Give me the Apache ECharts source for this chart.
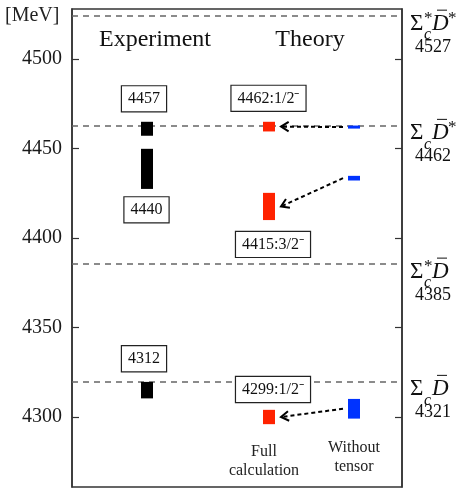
<!DOCTYPE html>
<html><head><meta charset="utf-8">
<script src="https://cdn.jsdelivr.net/npm/echarts@6/dist/echarts.min.js"></script>
<style>html,body{margin:0;padding:0;background:#fff}#c{width:468px;height:491px}</style>
</head><body><div id="c"></div>
<script>
// ---------------- data ----------------
const columns = ['Experiment', 'Full calculation', 'Without tensor'];
const columnX = [0.75, 1.97, 2.82];
const experimentBars = [[4457.2, 4465.0], [4427.5, 4449.9], [4310.5, 4319.7]];
const experimentLabels = ['4457', '4440', '4312'];
const fullBars = [[4459.6, 4465.0], [4410.1, 4425.3], [4296.1, 4304.1]];
const fullLabels = ['4462:1/2\u207B', '4415:3/2\u207B', '4299:1/2\u207B'];
const withoutTensorBars = [[4461.2, 4462.9], [4432.2, 4434.8], [4299.2, 4310.2]];
const thresholdLines = [4524, 4463, 4385.5, 4320];
const thresholdMasses = ['4527', '4462', '4385', '4321'];
const thresholdSigmaStar = [true, false, true, false];
const thresholdDStar = [true, true, false, false];
const yTicks = [4300, 4350, 4400, 4450, 4500];
const yTickLabels = ['4300', '4350', '4400', '4450', '4500'];

// ---------------- layout ----------------
const FONT = 'Liberation Serif';
const yMin = 4261, yMax = 4528, xMax = 3.3;
const barW = 0.12;
const expLabelAnchor = [[0.72, 4477.8], [0.745, 4415.8], [0.72, 4332.6]];
const fullLabelAnchor = [[1.965, 4478.1], [2.01, 4396.5], [2.01, 4315.5]];

const chart = echarts.init(document.getElementById('c'), null, {renderer: 'canvas'});

function barSeries(name, bars, xi, color) {
  return {
    type: 'custom', name, coordinateSystem: 'cartesian2d', silent: true, z: 5,
    data: bars.map(b => [columnX[xi], b[0], b[1]]),
    encode: {x: 0, y: [1, 2]},
    renderItem: (params, api) => {
      const lo = api.coord([api.value(0), api.value(1)]);
      const hi = api.coord([api.value(0), api.value(2)]);
      const w = api.size([barW, 0])[0];
      return {type: 'rect', shape: {x: lo[0] - w / 2, y: hi[1], width: w, height: lo[1] - hi[1]},
        style: {fill: color}};
    }
  };
}

function boxSeries(name, texts, anchors) {
  return {
    type: 'custom', name, coordinateSystem: 'cartesian2d', silent: true, z: 6,
    data: anchors.map((a, i) => [a[0], a[1], i]),
    encode: {x: 0, y: 1},
    renderItem: (params, api) => {
      const p = api.coord([api.value(0), api.value(1)]);
      return {type: 'text', x: p[0], y: p[1], style: {
        text: texts[api.value(2)], font: '16px ' + FONT, fill: '#111',
        align: 'center', verticalAlign: 'middle',
        backgroundColor: '#fff', borderColor: '#222', borderWidth: 1.2, padding: [5, 6, 4, 6]
      }};
    }
  };
}

const arrowSeries = {
  type: 'custom', name: 'arrows', coordinateSystem: 'cartesian2d', silent: true, z: 7,
  data: withoutTensorBars.map((b, i) => [i]),
  renderItem: (params, api) => {
    const i = api.value(0);
    const wo = withoutTensorBars[i], fu = fullBars[i];
    const half = api.size([barW, 0])[0] / 2;
    const s = api.coord([columnX[2], (wo[0] + wo[1]) / 2]);
    const e = api.coord([columnX[1], (fu[0] + fu[1]) / 2]);
    const x1 = s[0] - half - 5, y1 = s[1];
    const x2 = e[0] + half + 6, y2 = e[1];
    const dx = x1 - x2, dy = y1 - y2, L = Math.hypot(dx, dy);
    const ux = dx / L, uy = dy / L, ang = 32 * Math.PI / 180, hl = 9;
    const r = (a) => [x2 + hl * (ux * Math.cos(a) - uy * Math.sin(a)), y2 + hl * (ux * Math.sin(a) + uy * Math.cos(a))];
    const pA = r(ang), pB = r(-ang);
    return {type: 'group', children: [
      {type: 'line', shape: {x1, y1, x2: x2 + ux * 2, y2: y2 + uy * 2},
        style: {stroke: '#000', lineWidth: 2, lineDash: [4, 3]}},
      {type: 'polyline', shape: {points: [pA, [x2, y2], pB]},
        style: {stroke: '#000', lineWidth: 2, fill: null}}
    ]};
  }
};

const thresholdLabelSeries = {
  type: 'custom', name: 'thresholds', coordinateSystem: 'cartesian2d', silent: true, z: 6,
  clip: false,
  data: thresholdLines.map((v, i) => [xMax, v, i]),
  encode: {x: 0, y: 1},
  renderItem: (params, api) => {
    const i = api.value(2);
    const p = api.coord([api.value(0), api.value(1)]);
    const x0 = p[0] + 8, y0 = p[1];
    const big = '23px ' + FONT, it = 'italic 23px ' + FONT, small = 'italic 16px ' + FONT;
    const ch = [
      {type: 'text', x: x0, y: y0 + 8, style: {text: '\u03A3', font: big, fill: '#111', verticalAlign: 'middle'}},
      {type: 'text', x: x0 + 14, y: y0 + 19, style: {text: 'c', font: small, fill: '#111', verticalAlign: 'middle'}},
      {type: 'text', x: x0 + 22, y: y0 + 8, style: {text: 'D', font: it, fill: '#111', verticalAlign: 'middle'}},
      {type: 'line', shape: {x1: x0 + 27, y1: y0 - 6, x2: x0 + 37, y2: y0 - 6}, style: {stroke: '#111', lineWidth: 1}},
      {type: 'text', x: x0 + 23, y: y0 + 31, style: {text: thresholdMasses[i], font: '18px ' + FONT, fill: '#111', align: 'center', verticalAlign: 'middle'}}
    ];
    if (thresholdSigmaStar[i]) ch.push({type: 'text', x: x0 + 14, y: y0 + 2, style: {text: '*', font: '17px ' + FONT, fill: '#111', verticalAlign: 'middle'}});
    if (thresholdDStar[i]) ch.push({type: 'text', x: x0 + 38, y: y0 + 2, style: {text: '*', font: '17px ' + FONT, fill: '#111', verticalAlign: 'middle'}});
    return {type: 'group', children: ch};
  }
};

const option = {
  animation: false,
  backgroundColor: '#fff',
  textStyle: {fontFamily: FONT},
  grid: {left: 72, right: 66, top: 9, bottom: 4, show: true, borderColor: '#333', borderWidth: 1.5, backgroundColor: 'transparent'},
  xAxis: {type: 'value', min: 0, max: xMax, show: false},
  yAxis: [
    {type: 'value', min: yMin, max: yMax, position: 'left',
      axisLine: {show: true, lineStyle: {color: '#333', width: 1.5}},
      axisTick: {show: true, inside: true, length: 7, customValues: yTicks, lineStyle: {color: '#333', width: 1.2}},
      axisLabel: {show: true, customValues: yTicks, margin: 10, fontFamily: FONT, fontSize: 20, color: '#1a1a1a',
        formatter: v => yTickLabels[yTicks.indexOf(Math.round(v))] || ''},
      splitLine: {show: false}},
    {type: 'value', min: yMin, max: yMax, position: 'right',
      axisLine: {show: true, lineStyle: {color: '#333', width: 1.5}},
      axisTick: {show: true, inside: true, length: 7, customValues: yTicks, lineStyle: {color: '#333', width: 1.2}},
      axisLabel: {show: false}, splitLine: {show: false}}
  ],
  graphic: [
    {type: 'text', left: 5, top: 6, style: {text: '[MeV]', font: '20px ' + FONT, fill: '#222'}},
    {type: 'text', x: 155, y: 40, style: {text: 'Experiment', font: '24px ' + FONT, fill: '#111', align: 'center', verticalAlign: 'middle'}},
    {type: 'text', x: 310, y: 40, style: {text: 'Theory', font: '24px ' + FONT, fill: '#111', align: 'center', verticalAlign: 'middle'}},
    {type: 'text', x: 264, y: 461, style: {text: 'Full\ncalculation', font: '16px ' + FONT, fill: '#222', align: 'center', verticalAlign: 'middle', lineHeight: 19}},
    {type: 'text', x: 354, y: 457, style: {text: 'Without\ntensor', font: '16px ' + FONT, fill: '#222', align: 'center', verticalAlign: 'middle', lineHeight: 19}}
  ],
  series: [
    {type: 'line', data: [], silent: true,
      markLine: {symbol: 'none', silent: true, animation: false, label: {show: false},
        lineStyle: {type: [6, 5], color: '#666', width: 1.5},
        data: thresholdLines.map(v => ({yAxis: v}))}},
    barSeries(columns[0], experimentBars, 0, '#000'),
    barSeries(columns[1], fullBars, 1, '#ff2200'),
    barSeries(columns[2], withoutTensorBars, 2, '#0033ff'),
    boxSeries('expLabels', experimentLabels, expLabelAnchor),
    boxSeries('fullLabels', fullLabels, fullLabelAnchor),
    arrowSeries,
    thresholdLabelSeries
  ]
};
chart.setOption(option);
</script></body></html>
